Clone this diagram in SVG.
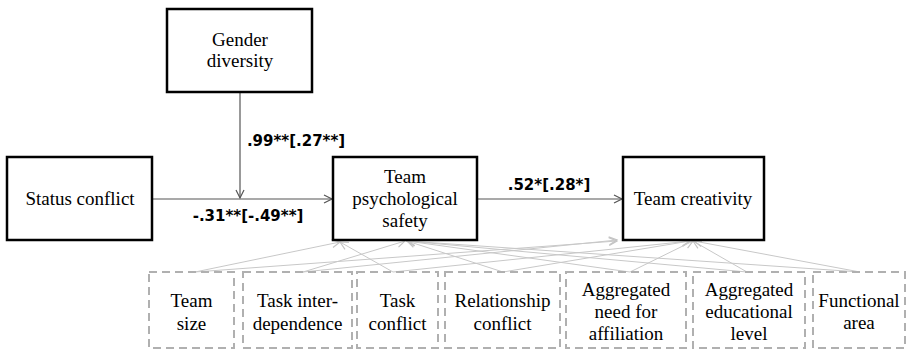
<svg xmlns="http://www.w3.org/2000/svg" width="907" height="355" viewBox="0 0 907 355">
<defs>
<marker id="arr" markerUnits="userSpaceOnUse" markerWidth="12" markerHeight="12" refX="9" refY="5" orient="auto">
<path d="M1,1 L9,5 L1,9" fill="none" stroke="#555" stroke-width="1.2"/>
</marker>
<marker id="arrL" markerUnits="userSpaceOnUse" markerWidth="12" markerHeight="12" refX="9" refY="5" orient="auto">
<path d="M1,1 L9,5 L1,9" fill="none" stroke="#c4c4c4" stroke-width="1.2"/>
</marker>
</defs>
<style>
.box{fill:#fff;stroke:#000;stroke-width:2.5}
.dbox{fill:none;stroke:#b0b0b0;stroke-width:2;stroke-dasharray:8,5}
.t{font-family:'Liberation Serif','Times New Roman',serif;font-size:19px;fill:#000;text-anchor:middle}
.lab{font-family:'DejaVu Sans',sans-serif;font-weight:bold;font-size:15px;fill:#000;text-anchor:middle}
.main{stroke:#555;stroke-width:1.2;fill:none;marker-end:url(#arr)}
.ctl{stroke:#c8c8c8;stroke-width:1;fill:none;marker-end:url(#arrL)}
</style>
<rect width="907" height="355" fill="#fff"/>
<g id="connectors">
<line class="main" x1="240" y1="92" x2="240" y2="198"/>
<line class="main" x1="152" y1="199" x2="332" y2="199"/>
<line class="main" x1="477" y1="199" x2="622" y2="199"/>
<line class="ctl" x1="195" y1="272" x2="340" y2="242"/>
<line class="ctl" x1="195" y1="272" x2="617" y2="241"/>
<line class="ctl" x1="303" y1="272" x2="405" y2="241"/>
<line class="ctl" x1="303" y1="272" x2="617" y2="240"/>
<line class="ctl" x1="393" y1="272" x2="340" y2="242"/>
<line class="ctl" x1="393" y1="272" x2="690" y2="241"/>
<line class="ctl" x1="503" y1="272" x2="407" y2="241"/>
<line class="ctl" x1="503" y1="272" x2="690" y2="241"/>
<line class="ctl" x1="630" y1="272" x2="407" y2="241"/>
<line class="ctl" x1="630" y1="272" x2="693" y2="241"/>
<line class="ctl" x1="747" y1="272" x2="407" y2="241"/>
<line class="ctl" x1="747" y1="272" x2="693" y2="241"/>
<line class="ctl" x1="860" y1="272" x2="407" y2="241"/>
<line class="ctl" x1="860" y1="272" x2="694" y2="241"/>
</g>
<g id="labels">
<text class="lab" x="296" y="146">.99**[.27**]</text>
<text class="lab" x="248" y="221">-.31**[-.49**]</text>
<text class="lab" x="549" y="190">.52*[.28*]</text>
</g>
<g id="gender">
<rect class="box" x="167" y="9" width="145" height="83"/>
<text class="t" x="240" y="46">Gender</text>
<text class="t" x="240" y="67">diversity</text>
</g>
<g id="status">
<rect class="box" x="7" y="157" width="145" height="83"/>
<text class="t" x="80" y="205">Status conflict</text>
</g>
<g id="tps">
<rect class="box" x="333" y="157" width="144" height="83"/>
<text class="t" x="405" y="183">Team</text>
<text class="t" x="405" y="205">psychological</text>
<text class="t" x="405" y="227">safety</text>
</g>
<g id="tc">
<rect class="box" x="623" y="157" width="141" height="83"/>
<text class="t" x="693" y="205">Team creativity</text>
</g>
<g id="c1">
<rect class="dbox" x="149" y="272" width="85" height="76"/>
<text class="t" x="191.5" y="307">Team</text>
<text class="t" x="191.5" y="330">size</text>
</g>
<g id="c2">
<rect class="dbox" x="243" y="272" width="109" height="76"/>
<text class="t" x="297.5" y="307">Task inter-</text>
<text class="t" x="297.5" y="330">dependence</text>
</g>
<g id="c3">
<rect class="dbox" x="357" y="272" width="81" height="76"/>
<text class="t" x="397.5" y="307">Task</text>
<text class="t" x="397.5" y="330">conflict</text>
</g>
<g id="c4">
<rect class="dbox" x="445" y="272" width="115" height="76"/>
<text class="t" x="502.5" y="307">Relationship</text>
<text class="t" x="502.5" y="330">conflict</text>
</g>
<g id="c5">
<rect class="dbox" x="566" y="272" width="120" height="76"/>
<text class="t" x="626" y="296">Aggregated</text>
<text class="t" x="626" y="318">need for</text>
<text class="t" x="626" y="340">affiliation</text>
</g>
<g id="c6">
<rect class="dbox" x="693" y="272" width="112" height="76"/>
<text class="t" x="749" y="296">Aggregated</text>
<text class="t" x="749" y="318">educational</text>
<text class="t" x="749" y="340">level</text>
</g>
<g id="c7">
<rect class="dbox" x="813" y="272" width="92" height="76"/>
<text class="t" x="859" y="307">Functional</text>
<text class="t" x="859" y="329">area</text>
</g>
</svg>
